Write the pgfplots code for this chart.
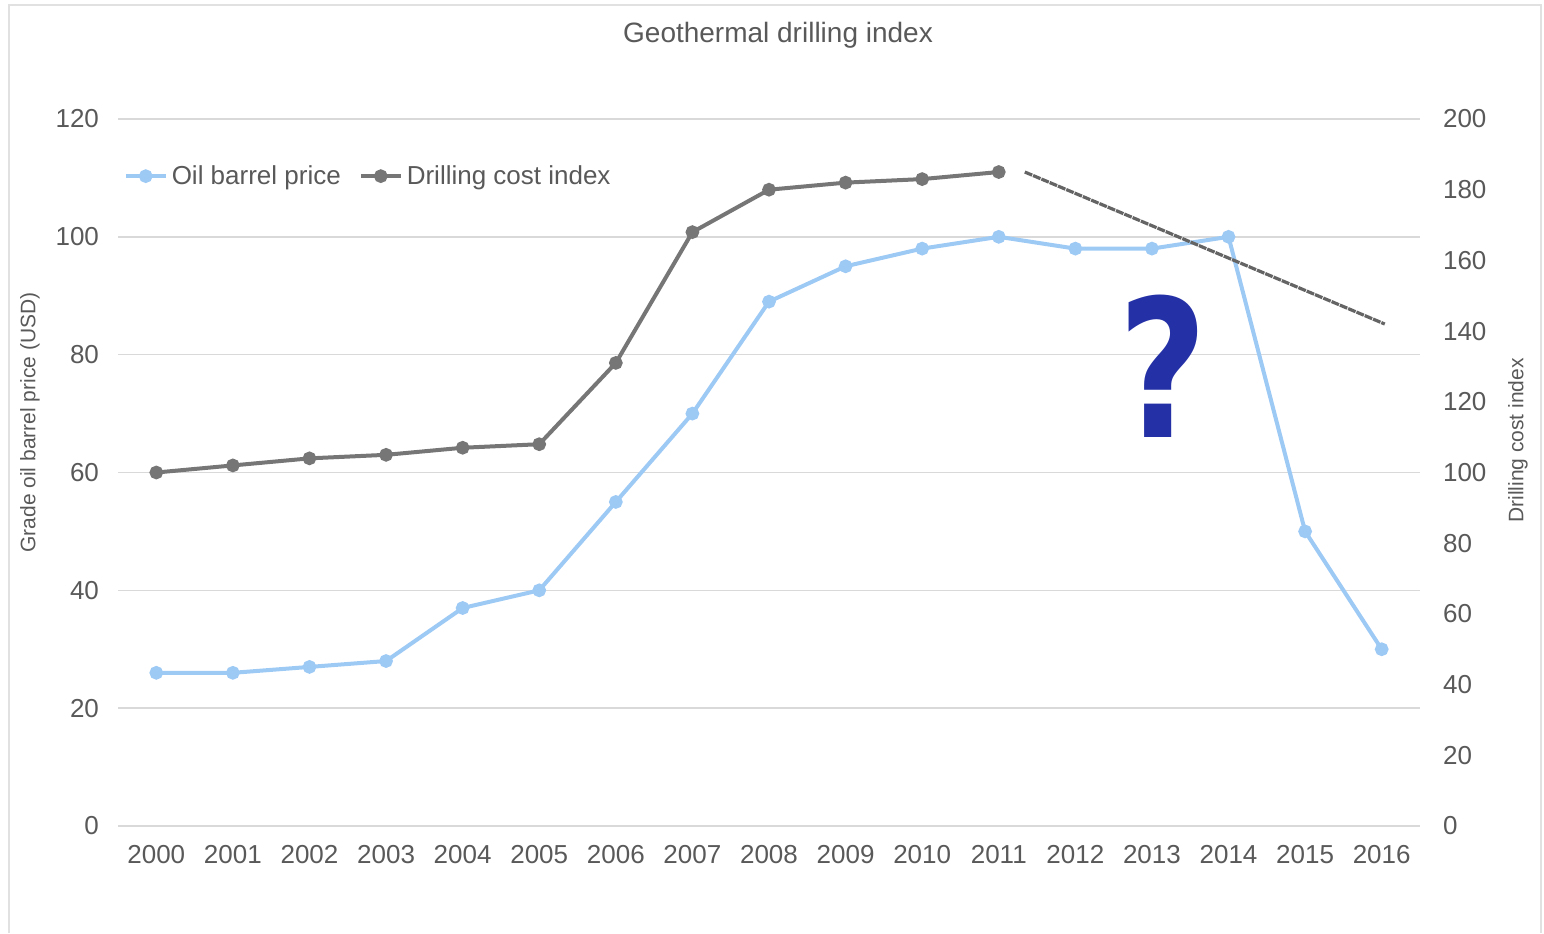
\documentclass[border=0pt]{standalone}
\usepackage{pgfplots}
\pgfplotsset{compat=1.18}
\usepackage{fontspec}
\setmainfont{Liberation Sans}
\newfontfamily\qfont{DejaVu Sans}
\definecolor{oilc}{RGB}{157,201,245}
\definecolor{drc}{RGB}{118,118,118}
\definecolor{txt}{RGB}{89,89,89}
\definecolor{grd}{RGB}{217,217,217}
\definecolor{qc}{RGB}{36,48,165}
\begin{document}
\begin{tikzpicture}
\useasboundingbox (0pt,0pt) rectangle (772pt,466.5pt);
\draw[grd!80,line width=0.8pt] (4.5pt,0pt) -- (4.5pt,464pt) -- (770.5pt,464pt) -- (770.5pt,0pt);
\node[txt,font=\fontsize{14}{16}\selectfont] at (389pt,449pt) {Geothermal drilling index};
\begin{axis}[
  at={(59pt,53.5pt)}, anchor=south west,
  scale only axis, width=651pt, height=353.5pt,
  xmin=-0.5, xmax=16.5, ymin=0, ymax=120,
  xtick={0,...,16},
  xticklabels={2000,2001,2002,2003,2004,2005,2006,2007,2008,2009,2010,2011,2012,2013,2014,2015,2016},
  ytick={0,20,...,120},
  axis line style={draw=none},
  axis y line*=left, axis x line*=bottom,
  major tick length=0pt,
  ymajorgrids, grid style={grd,line width=0.8pt},
  tick label style={txt,font=\fontsize{13}{15}\selectfont},
  /pgf/number format/assume math mode=true,
  yticklabel style={xshift=-6pt},
  xticklabel style={yshift=-6pt},
  ylabel={Grade oil barrel price (USD)},
  ylabel style={txt,font=\fontsize{10.5}{12}\selectfont, at={(axis description cs:-0.0676,0.5707)}, anchor=center},
  legend style={at={(axis cs:-0.43,110.3)}, anchor=west, draw=none, fill=none,
    legend columns=2, font=\fontsize{13}{15}\selectfont, text=txt,
    /tikz/every even column/.append style={column sep=7pt}, inner sep=0pt},
  legend image code/.code={\draw[#1] (0pt,0pt) -- (20pt,0pt); \draw[#1,mark repeat=1] plot coordinates {(10pt,0pt)};},
  clip=false,
]
\addplot[oilc, line width=2pt, mark=*, mark size=2.4pt, mark options={solid}] coordinates {
(0,26) (1,26) (2,27) (3,28) (4,37) (5,40) (6,55) (7,70) (8,89) (9,95) (10,98) (11,100) (12,98) (13,98) (14,100) (15,50) (16,30)};
\addlegendentry{Oil barrel price}
\addlegendimage{drc, line width=2pt, mark=*, mark size=2.4pt}
\addlegendentry{Drilling cost index}
\node[qc, xscale=0.8, font=\qfont\bfseries\fontsize{96}{96}\selectfont] at (axis cs:13.15,78) {?};
\end{axis}
\begin{axis}[
  at={(59pt,53.5pt)}, anchor=south west,
  scale only axis, width=651pt, height=353.5pt,
  xmin=-0.5, xmax=16.5, ymin=0, ymax=200,
  ytick={0,20,...,200},
  axis line style={draw=none},
  axis y line*=right, axis x line=none,
  major tick length=0pt,
  tick label style={txt,font=\fontsize{13}{15}\selectfont},
  /pgf/number format/assume math mode=true,
  yticklabel style={xshift=8pt},
  ylabel={Drilling cost index},
  ylabel style={txt,font=\fontsize{10.5}{12}\selectfont, at={(axis description cs:1.0753,0.5453)}, anchor=center},
  clip=false,
]
\addplot[drc, line width=2pt, mark=*, mark size=2.4pt] coordinates {
(0,100) (1,102) (2,104) (3,105) (4,107) (5,108) (6,131) (7,168) (8,180) (9,182) (10,183) (11,185)};
\addplot[drc!85!black, line width=1.6pt, dash pattern=on 4pt off 0.5pt] coordinates {(11.34,185) (16.04,142)};
\end{axis}
\end{tikzpicture}
\end{document}
